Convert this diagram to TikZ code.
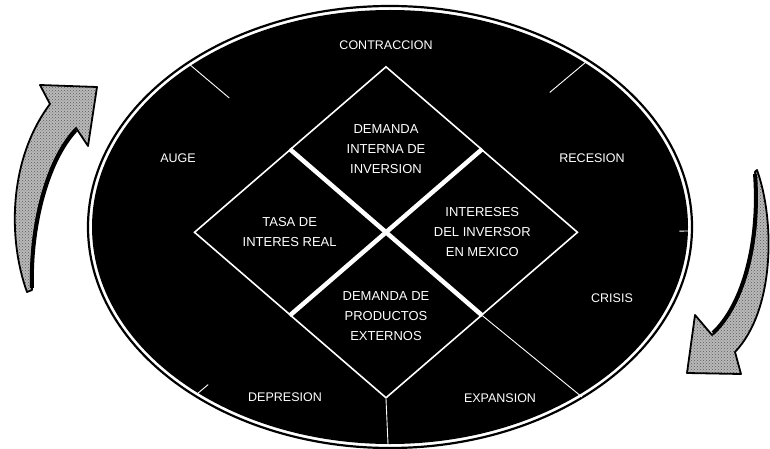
\documentclass[tikz,border=0pt]{standalone}
\usepackage{fontspec}
\setmainfont{Liberation Sans}
\usepackage{xcolor}
\usepackage{tikz}
\usetikzlibrary{shapes.geometric, positioning, calc, patterns}
\definecolor{CicloFondo}{RGB}{0, 0, 0}
\definecolor{CicloLinea}{RGB}{255, 255, 255}
\definecolor{CicloFlecha}{RGB}{185, 185, 185}
\definecolor{CicloPunto}{RGB}{90, 90, 90}

\tikzset{
  rombo/.style={diamond, draw=CicloLinea, line width=1.6pt, inner sep=0pt,
    minimum width=191pt, minimum height=165pt, align=center,
    text=CicloLinea, font=\fontsize{13}{20}\selectfont},
  fase/.style={text=CicloLinea, font=\fontsize{12.5}{14}\selectfont},
  division/.style={draw=CicloLinea, line width=0.9pt},
  flecha/.style={preaction={fill=CicloFlecha}, pattern=crosshatch dots,
    pattern color=CicloPunto, draw=black, line width=1.8pt, line join=round}
}

\begin{document}
\begin{tikzpicture}[x=1pt, y=-1pt]
  \useasboundingbox (0,0) rectangle (770,449);

  % anillo exterior
  \node[ellipse, draw=black, line width=2.2pt, minimum width=604pt,
    minimum height=442pt] (borde) at (390,227) {};
  \node[ellipse, fill=CicloFondo, inner sep=0pt, minimum width=596pt,
    minimum height=434pt] (disco) at (borde.center) {};

  % rombos centrales
  \node[rombo] (sup) at (386,149) {DEMANDA\\INTERNA DE\\INVERSION};
  \node[rombo, anchor=north] (izq) at (sup.west) {TASA DE\\INTERES REAL};
  \node[rombo, anchor=north] (der) at (sup.east) {INTERESES\\DEL INVERSOR\\EN MEXICO};
  \node[rombo, anchor=north] (inf) at (sup.south) {DEMANDA DE\\PRODUCTOS\\EXTERNOS};
  \draw[CicloLinea, line width=4.5pt] (sup.west) -- (inf.east);
  \draw[CicloLinea, line width=4.5pt] (sup.east) -- (inf.west);

  % divisiones del anillo
  \coordinate (e1) at (189,64);
  \coordinate (e2) at (586,62);
  \coordinate (e3) at (688,231);
  \coordinate (e4) at (582,397);
  \coordinate (e5) at (388,444);
  \coordinate (e6) at (197,394);
  \draw[division] (e1) -- ($(e1)!0.4!(sup.west)$);
  \draw[division] (e2) -- ($(e2)!0.35!(sup.east)$);
  \draw[division] (e3) -- ($(e3)!0.08!(der.east)$);
  \draw[division] (e4) -- (inf.east);
  \draw[division] (e5) -- (inf.south);
  \draw[division] (e6) -- ($(e6)!0.12!(inf.west)$);

  % fases del ciclo
  \node[fase] (f1) at (386,45) {CONTRACCION};
  \node[fase] (f2) at (592,158) {RECESION};
  \node[fase] (f3) at (178,158) {AUGE};
  \node[fase] (f4) at (612,298) {CRISIS};
  \node[fase] (f5) at (500,398) {EXPANSION};
  \node[fase] (f6) at (285,397) {DEPRESION};

  % flechas de giro
  \draw[flecha] (27,292) .. controls (8,240) and (8,160) .. (50,104)
    -- (40,85) -- (97,87) -- (88,146) -- (76,128)
    .. controls (45,160) and (28,230) .. (32,290) -- cycle;
  \draw[line width=4pt] (76,130) .. controls (46,162) and (30,230) .. (32,288);
  \draw[flecha] (757,170) .. controls (775,220) and (775,310) .. (735,352)
    -- (741,374) -- (687,373) -- (695,315) -- (712,335)
    .. controls (745,305) and (762,240) .. (755,172) -- cycle;
  \draw[line width=4pt] (713,333) .. controls (744,304) and (760,240) .. (755,174);
\end{tikzpicture}
\end{document}
